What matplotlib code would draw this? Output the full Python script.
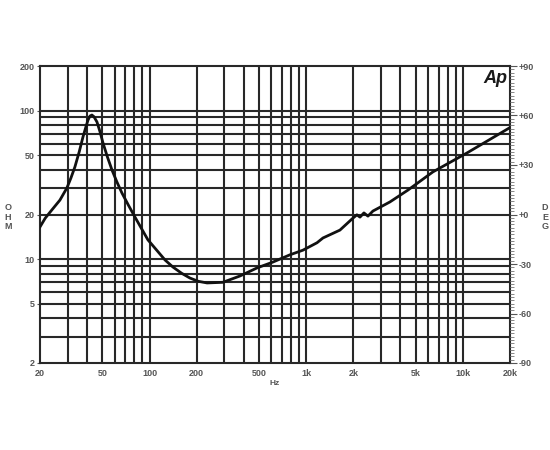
import matplotlib.pyplot as plt
import matplotlib.ticker as mticker
import numpy as np

plt.rcParams['font.family'] = ['Liberation Sans', 'DejaVu Sans']

# impedance curve
freq = [20, 21.6, 23.75, 26.8, 29.7, 31.5, 33.4, 35.6, 37.6, 39.3, 40.5, 41.7,
        42.9, 44.2, 46.2, 48.3, 50.5, 53.8, 57.6, 61.8, 66.7, 73.2, 80.8,
        97.7, 125.6, 141, 160.4, 181, 204.7, 233, 294, 378, 485, 614, 787,
        953, 1172, 1280, 1642, 1988, 2108, 2205, 2337, 2479, 2667, 3425,
        4461, 6437, 10614, 20000]
ohm = [16.5, 18.9, 21.4, 25.0, 30.2, 35.2, 41.8, 52.9, 66.5, 78.0, 86.5, 92.1,
       93.5, 91.1, 84.0, 72.2, 60.6, 49.0, 39.9, 33.3, 27.9, 23.2, 19.2,
       13.5, 9.88, 8.86, 8.04, 7.47, 7.10, 6.92, 6.99, 7.71, 8.73, 9.57, 10.7,
       11.5, 12.9, 13.9, 15.7, 18.9, 19.9, 19.2, 20.5, 19.5, 21.1, 24.3,
       29.2, 38.7, 51.9, 77.0]

x_ticks = [20, 50, 100, 200, 500, 1000, 2000, 5000, 10000, 20000]
x_labels = ["20", "50", "100", "200", "500", "1k", "2k", "5k", "10k", "20k"]
y_ticks = [2, 5, 10, 20, 50, 100, 200]
y_labels = ["2", "5", "10", "20", "50", "100", "200"]
deg_ticks = [-90, -60, -30, 0, 30, 60, 90]
deg_labels = ["-90", "-60", "-30", "+0", "+30", "+60", "+90"]

grid_c = "#282828"
lab_c = "#555555"

fig = plt.figure(figsize=(5.5, 4.5), dpi=100)
ax = fig.add_axes([40/550, 87/450, 470/550, 297/450])

ax.set_xscale("log")
ax.set_yscale("log")
ax.set_xlim(20, 20000)
ax.set_ylim(2, 200)

# grid lines at every log step
xg = [m * 10**e for e in range(1, 5) for m in range(1, 10)]
xg = [v for v in xg if 20 < v < 20000]
yg = [m * 10**e for e in range(0, 3) for m in range(1, 10)]
yg = [v for v in yg if 2 < v < 200]
for v in xg:
    ax.axvline(v, color=grid_c, lw=1.5, zorder=1)
for v in yg:
    ax.axhline(v, color=grid_c, lw=1.5, zorder=1)

ax.plot(freq, ohm, color="#111111", lw=2.0, zorder=3, solid_joinstyle="round")

ax.xaxis.set_major_locator(mticker.FixedLocator(x_ticks))
ax.xaxis.set_major_formatter(mticker.FixedFormatter(x_labels))
ax.xaxis.set_minor_locator(mticker.NullLocator())
ax.yaxis.set_major_locator(mticker.FixedLocator(y_ticks))
ax.yaxis.set_major_formatter(mticker.FixedFormatter(y_labels))
ax.yaxis.set_minor_locator(mticker.NullLocator())
ax.tick_params(axis="both", labelsize=6.5, colors=lab_c, length=2, width=0.8, pad=2)
ax.tick_params(axis="x", length=0, pad=4)
for t in ax.get_xticklabels() + ax.get_yticklabels():
    t.set_fontweight("bold")

for s in ax.spines.values():
    s.set_color(grid_c)
    s.set_linewidth(1.5)

ax2 = ax.twinx()
ax2.set_ylim(-90, 90)
ax2.set_yticks(deg_ticks)
ax2.set_yticklabels(deg_labels)
ax2.yaxis.set_minor_locator(mticker.MultipleLocator(2))
ax2.tick_params(axis="y", which="major", labelsize=6.5, colors=lab_c, length=5, width=0.8, pad=1)
ax2.tick_params(axis="y", which="minor", colors="#888888", length=3, width=0.7)
for t in ax2.get_yticklabels():
    t.set_fontweight("bold")
for s in ax2.spines.values():
    s.set_visible(False)

ax.text(0.995, 0.985, "Ap", transform=ax.transAxes, ha="right", va="top",
        fontsize=13, fontweight="bold", fontstyle="italic", color="#1a1a1a", zorder=5)

ax.set_xlabel("Hz", fontsize=6, fontweight="bold", color=lab_c, labelpad=2)
fig.text(8/550, 1 - 217/450, "O\nH\nM", fontsize=6.5, fontweight="bold",
         color=lab_c, ha="center", va="center", linespacing=1.1)
fig.text(545/550, 1 - 217/450, "D\nE\nG", fontsize=6.5, fontweight="bold",
         color=lab_c, ha="center", va="center", linespacing=1.1)

fig.savefig("out.png", dpi=100, facecolor="white")
